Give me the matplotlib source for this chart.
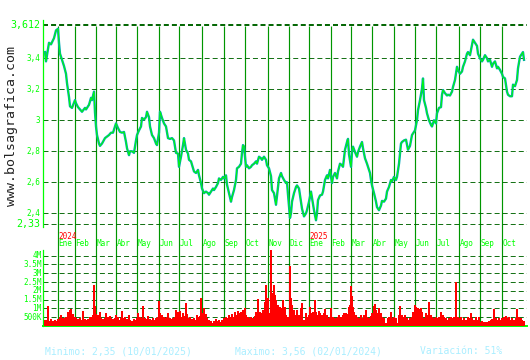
import matplotlib.pyplot as plt

plt.rcParams["lines.scale_dashes"] = False
MONO = "DejaVu Sans Mono"

# trading-day index (0 = first session shown) and closing price
price_day = [
    0, 1, 4, 6, 9, 11, 13, 14, 15, 17,
    19, 21, 22, 24, 25, 27, 30, 31, 33, 35,
    37, 40, 41, 44, 46, 47, 49, 50, 51, 52,
    54, 55, 57, 60, 62, 64, 66, 68, 70, 71,
    73, 75, 77, 79, 81, 82, 84, 85, 87, 89,
    91, 92, 94, 96, 97, 99, 101, 102, 104, 105,
    107, 109, 111, 112, 114, 115, 117, 119, 121, 123,
    125, 127, 129, 131, 133, 134, 136, 138, 139, 141,
    143, 144, 146, 148, 149, 151, 153, 154, 156, 157,
    159, 161, 163, 164, 166, 168, 169, 171, 173, 174,
    176, 178, 179, 181, 182, 184, 186, 187, 189, 191,
    192, 194, 196, 197, 198, 199, 201, 202, 204, 206,
    207, 209, 211, 212, 214, 216, 217, 219, 221, 222,
    224, 226, 227, 229, 231, 232, 234, 236, 237, 239,
    241, 242, 243, 245, 246, 247, 249, 251, 252, 254,
    256, 257, 259, 261, 262, 264, 266, 267, 269, 271,
    272, 273, 275, 277, 278, 280, 282, 283, 285, 287,
    288, 290, 292, 293, 295, 297, 298, 300, 302, 303,
    304, 306, 307, 308, 310, 312, 313, 315, 317, 318,
    320, 322, 323, 325, 326, 327, 329, 331, 332, 334,
    336, 337, 339, 341, 342, 344, 346, 347, 349, 351,
    352, 354, 356, 357, 359, 361,
    363, 365, 367, 368, 370, 372, 373, 375, 377, 378,
    379, 381, 382, 384, 386, 387, 389, 391, 392, 394,
    396, 397, 398, 400, 402, 403, 405, 407, 408, 410,
    412, 413, 415, 417, 418, 420, 422, 423, 425, 427,
    428, 430, 432, 433, 435, 437, 438, 440, 442, 443,
    445, 447, 448, 450, 452, 453, 455, 457, 458, 460,
    462, 463, 465, 467, 468, 470, 472, 473, 475, 477,
    478, 479,
]
price_close = [
    3.44, 3.38, 3.50, 3.49, 3.53, 3.58, 3.59, 3.50, 3.43, 3.39,
    3.35, 3.30, 3.24, 3.15, 3.09, 3.08, 3.13, 3.11, 3.085, 3.07,
    3.055, 3.08, 3.07, 3.10, 3.145, 3.13, 3.185, 3.05, 2.96, 2.905,
    2.85, 2.835, 2.85, 2.885, 2.895, 2.905, 2.92, 2.92, 2.96, 2.98,
    2.95, 2.925, 2.92, 2.925, 2.86, 2.82, 2.775, 2.80, 2.80, 2.79,
    2.87, 2.905, 2.935, 2.96, 3.015, 3.005, 3.02, 3.055, 3.02, 2.96,
    2.905, 2.885, 2.85, 2.84, 2.92, 3.055, 3.015, 2.98, 2.96, 2.885,
    2.88, 2.885, 2.87, 2.79, 2.785, 2.70, 2.765, 2.84, 2.885, 2.81,
    2.785, 2.745, 2.735, 2.69, 2.67, 2.66, 2.68, 2.645, 2.595, 2.56,
    2.53, 2.54, 2.53, 2.52, 2.54, 2.56, 2.55, 2.57, 2.595, 2.625,
    2.615, 2.635, 2.625, 2.645, 2.585, 2.53, 2.475, 2.505, 2.55, 2.615,
    2.69, 2.70, 2.72, 2.79, 2.84, 2.83, 2.70, 2.71, 2.69, 2.70,
    2.71, 2.72, 2.735, 2.72, 2.765, 2.755, 2.745, 2.765, 2.745, 2.71,
    2.69, 2.64, 2.55, 2.53, 2.455, 2.51, 2.625, 2.66, 2.64, 2.615,
    2.595, 2.60, 2.52, 2.37, 2.40, 2.475, 2.53, 2.57, 2.58, 2.56,
    2.475, 2.43, 2.38, 2.40, 2.42, 2.475, 2.54, 2.50, 2.42, 2.355,
    2.40, 2.485, 2.515, 2.52, 2.54, 2.615, 2.645, 2.625, 2.68, 2.595,
    2.635, 2.66, 2.625, 2.67, 2.72, 2.71, 2.70, 2.81, 2.86, 2.88,
    2.78, 2.70, 2.795, 2.83, 2.795, 2.765, 2.795, 2.83, 2.86, 2.82,
    2.755, 2.72, 2.70, 2.66, 2.615, 2.58, 2.53, 2.475, 2.44, 2.42,
    2.45, 2.48, 2.475, 2.495, 2.54, 2.57, 2.615, 2.605, 2.635, 2.615,
    2.635, 2.72, 2.85, 2.86, 2.87, 2.875,
    2.81, 2.835, 2.905, 2.915, 2.935, 3.00, 3.065, 3.13, 3.205, 3.27,
    3.13, 3.08, 3.045, 3.00, 2.97, 2.96, 3.00, 2.98, 3.045, 3.08,
    3.085, 3.165, 3.195, 3.175, 3.16, 3.165, 3.16, 3.185, 3.215, 3.26,
    3.345, 3.325, 3.30, 3.315, 3.345, 3.38, 3.43, 3.44, 3.42, 3.485,
    3.52, 3.50, 3.48, 3.43, 3.40, 3.38, 3.39, 3.42, 3.40, 3.38,
    3.39, 3.345, 3.365, 3.38, 3.335, 3.345, 3.325, 3.30, 3.28, 3.27,
    3.185, 3.165, 3.155, 3.155, 3.23, 3.22, 3.26, 3.335, 3.41, 3.43,
    3.44, 3.39,
]

# volume, thousands of shares
vol_day = [
    0, 1, 3, 5, 6, 8, 10, 11, 13, 15, 16, 18, 20, 21, 23, 25, 26, 28, 30, 31,
    33, 35, 36, 38, 40, 41, 43, 45, 46, 48, 49, 50, 51, 53, 55, 56, 58, 60, 61, 63,
    65, 66, 68, 70, 71, 73, 75, 76, 77, 79, 80, 82, 84, 85, 87, 89, 90, 92, 93, 95,
    96, 98, 100, 101, 103, 105, 106, 108, 110, 111, 113, 114, 115, 117, 119, 120, 122, 123, 125, 126,
    128, 130, 131, 132, 134, 135, 137, 138, 140, 141, 142, 144, 145, 147, 149, 150, 152, 154, 155, 156,
    157, 159, 161, 162, 164, 166, 167, 169, 171, 172, 174, 176, 177, 179, 181, 182, 184, 186, 187, 189,
    190, 192, 193, 195, 196, 198, 200, 201, 203, 205, 206, 208, 210, 211, 212, 213, 215, 216, 218, 220,
    221, 222, 223, 225, 226, 227, 229, 230, 231, 233, 235, 236, 238, 240, 241,
    243, 245, 246, 247, 249, 251, 252, 254, 256, 257, 259, 261, 262, 264, 265, 267, 268, 270, 271, 272,
    274, 275, 277, 279, 280, 282, 283, 285, 286, 288, 289, 291, 293, 294, 296, 298, 299, 301, 303, 304,
    305, 306, 307, 308, 309, 311, 312, 314, 316, 317, 319, 321, 322, 324, 326, 327, 329, 330, 331, 333,
    334, 336, 337, 339, 341, 343, 344, 346, 348, 349, 351, 352, 354, 355, 357, 358, 360, 362, 363, 365,
    367, 368, 370, 371, 373, 374, 376, 377, 379, 381, 383, 384, 386, 387, 389, 391, 393, 394, 396, 398,
    399, 401, 403, 404, 406, 408, 409, 411, 413, 414, 416, 418, 419, 421, 423, 424, 426, 427, 429, 431,
    432, 434, 436, 437, 439, 441, 442, 444, 446, 447, 449, 451, 452, 454, 456, 457, 459, 461, 462, 464,
    466, 467, 469, 471, 472, 474, 476, 477, 479,
]
vol_k = [
    340, 340, 1140, 300, 380, 300, 340, 270, 380, 530, 610, 440, 440, 530, 820, 910, 950, 680, 530, 440,
    380, 440, 340, 870, 380, 340, 380, 490, 530, 630, 2330, 1140, 680, 630, 800, 440, 380, 440, 720, 530,
    570, 440, 380, 440, 630, 530, 340, 440, 850, 440, 530, 380, 610, 340, 300, 380, 340, 440, 720, 530,
    440, 1140, 440, 380, 570, 380, 340, 440, 340, 440, 530, 1440, 720, 630, 490, 440, 530, 760, 440, 380,
    440, 530, 910, 820, 800, 850, 530, 760, 570, 1290, 680, 440, 530, 380, 440, 340, 630, 530, 570, 1610,
    720, 1010, 680, 440, 340, 300, 190, 300, 380, 300, 340, 250, 340, 440, 530, 440, 630, 530, 680, 530,
    820, 630, 870, 720, 820, 910, 1010, 630, 530, 440, 530, 440, 570, 820, 630, 1520, 820, 760, 910, 1390,
    2330, 1200, 1570, 720, 5000, 1860, 2330, 1760, 1480, 1200, 1100, 1010, 1480, 1100, 630,
    530, 3420, 1570, 1200, 910, 630, 910, 630, 1010, 1290, 340, 720, 530, 630, 1100, 720, 820, 1480, 820, 630,
    870, 720, 630, 720, 950, 630, 440, 530, 1010, 530, 440, 440, 530, 630, 530, 630, 760, 720, 680, 1100,
    1200, 2300, 1710, 1100, 820, 630, 530, 440, 630, 440, 630, 910, 530, 440, 570, 720, 1140, 1250, 910, 760,
    1010, 720, 530, 440, 150, 440, 530, 820, 440, 530, 440, 150, 630, 1140, 630, 530, 630, 440, 340, 440,
    530, 820, 1200, 1060, 1010, 950, 1010, 820, 440, 720, 630, 1350, 630, 530, 440, 530, 440, 530, 820, 630,
    530, 440, 340, 440, 530, 440, 530, 2490, 530, 440, 530, 340, 440, 340, 530, 440, 760, 440, 340, 530,
    340, 530, 250, 300, 250, 250, 250, 300, 340, 380, 950, 440, 340, 440, 340, 440, 530, 570, 440, 530,
    340, 440, 340, 440, 950, 530, 440, 340, 300,
]

month_day = [13, 30, 51, 71, 92, 114, 134, 157, 179, 200, 223, 244,
             264, 286, 306, 327, 349, 370, 391, 414, 435, 457]
month_lbl = ["Ene", "Feb", "Mar", "Abr", "May", "Jun", "Jul", "Ago", "Sep", "Oct", "Nov", "Dic",
             "Ene", "Feb", "Mar", "Abr", "May", "Jun", "Jul", "Ago", "Sep", "Oct"]
year_day = [13, 264]
year_lbl = ["2024", "2025"]

price_ticks = [3.612, 3.4, 3.2, 3.0, 2.8, 2.6, 2.4, 2.33]
price_tick_lbl = ["3,612", "3,4", "3,2", "3", "2,8", "2,6", "2,4", "2,33"]
vol_ticks = [500, 1000, 1500, 2000, 2500, 3000, 3500, 4000]
vol_tick_lbl = ["500K", "1M", "1.5M", "2M", "2.5M", "3M", "3.5M", "4M"]

W, H = 530, 360
GRID = "#006400"
VLINE = "#009600"
BRIGHT = "#00ff00"
DASH = (3.6, 2.2)


def px_axes(fig, x0, y0, x1, y1, z):
    # rectangle given in image pixels (origin top-left)
    ax = fig.add_axes([x0 / W, 1 - y1 / H, (x1 - x0) / W, (y1 - y0) / H])
    ax.set_zorder(z)
    ax.patch.set_visible(False)
    return ax


fig = plt.figure(figsize=(W / 100, H / 100), dpi=100, facecolor="white")

# background: month separators running through both panels
bg = px_axes(fig, 43, 20, 527, 326, 0)
bg.set_xlim(-2, 482)
bg.set_ylim(326, 20)
bg.axis("off")
bg.vlines(month_day, 26, 326, color=VLINE, lw=0.85)
for d, lbl in zip(month_day, month_lbl):
    bg.text(d + 0.5, 244, lbl, ha="left", va="center", fontsize=5.5,
            color=BRIGHT, family=MONO, clip_on=False)
for d, lbl in zip(year_day, year_lbl):
    bg.text(d + 0.5, 236.5, lbl, ha="left", va="center", fontsize=5.5,
            color="#ff0000", family=MONO, clip_on=False)

# price panel
ax = px_axes(fig, 43, 20, 527, 227, 2)
ax.set_xlim(-2, 482)
ax.set_ylim(2.3116, 3.647)
for s in ["top", "right", "bottom"]:
    ax.spines[s].set_visible(False)
ax.spines["left"].set_color(BRIGHT)
ax.spines["left"].set_linewidth(0.9)
ax.set_xticks([])
ax.set_yticks([])
for v, lbl in zip(price_ticks, price_tick_lbl):
    big = lbl in ("3,612", "2,33")
    ax.axhline(v, color=GRID, lw=1.4 if v == price_ticks[0] else 0.65, dashes=DASH, zorder=1)
    ax.text(-0.0062, v, lbl, transform=ax.get_yaxis_transform(), ha="right", va="center",
            fontsize=7.2 if big else 5.5, color=BRIGHT, family=MONO)
ax.plot(price_day, price_close, color="#00a8b4", lw=1.7, zorder=3)
ax.plot(price_day, price_close, color=BRIGHT, lw=0.7, zorder=4)

# volume panel
av = px_axes(fig, 43, 250, 527, 326, 2)
av.set_xlim(-2, 482)
av.set_ylim(0, 4324)
for s in ["top", "right"]:
    av.spines[s].set_visible(False)
av.spines["left"].set_color(BRIGHT)
av.spines["left"].set_linewidth(0.9)
av.spines["bottom"].set_color(BRIGHT)
av.spines["bottom"].set_linewidth(1.4)
av.set_xticks([])
av.set_yticks([])
for v, lbl in zip(vol_ticks, vol_tick_lbl):
    av.axhline(v, color=GRID, lw=0.65, dashes=DASH, zorder=1)
    av.text(-0.003, v, lbl, transform=av.get_yaxis_transform(), ha="right", va="center",
            fontsize=5.5, color=BRIGHT, family=MONO)
av.bar(vol_day, vol_k, width=2.0, color="#ff0000", linewidth=0, zorder=3)

# watermark and summary line
fig.text(12 / W, 1 - 126 / H, "www.bolsagrafica.com", rotation=90, ha="center",
         va="center", fontsize=9.5, family=MONO, color="#222222")
summary = [(45, "Minimo: 2,35 (10/01/2025)"),
           (235, "Maximo: 3,56 (02/01/2024)"),
           (420, "Variación: 51%")]
for x, txt in summary:
    fig.text(x / W, 1 - 351 / H, txt, ha="left", va="center", fontsize=7,
             family=MONO, color="#aaeeff")

fig.savefig("out.png", dpi=100, facecolor="white")
